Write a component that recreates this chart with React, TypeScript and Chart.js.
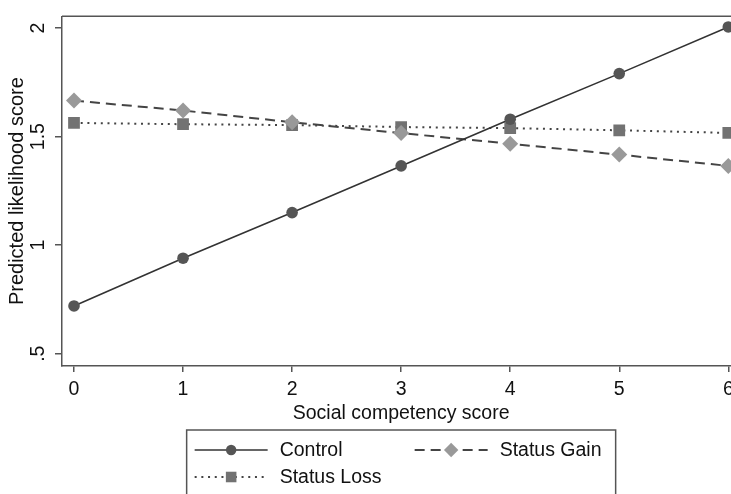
import React, { useEffect, useRef } from 'react';
import { Chart, registerables } from 'chart.js';

Chart.register(...registerables);

// ---- data ----
const xValues = [0, 1, 2, 3, 4, 5, 6];
const xTickLabels = ['0', '1', '2', '3', '4', '5', '6'];
const yTickValues = [0.5, 1, 1.5, 2];
const yTickLabels = ['.5', '1', '1.5', '2'];
const controlValues = [0.72, 0.94, 1.15, 1.365, 1.58, 1.79, 2.005];
const statusGainValues = [1.666, 1.62, 1.566, 1.516, 1.467, 1.417, 1.365];
const statusLossValues = [1.563, 1.557, 1.553, 1.544, 1.539, 1.529, 1.517];
const seriesNames = ['Control', 'Status Gain', 'Status Loss'];
const xTitle = 'Social competency score';
const yTitle = 'Predicted likelihood score';

// ---- style ----
const FONT = '"Liberation Sans", Arial, Helvetica, sans-serif';
const TEXT = '#111111';
const AXIS = '#555555';

const drawMarker = (ctx: CanvasRenderingContext2D, style: string, x: number, y: number, r: number, color: string) => {
  ctx.save();
  ctx.fillStyle = color;
  ctx.beginPath();
  if (style === 'circle') {
    ctx.arc(x, y, r, 0, Math.PI * 2);
  } else if (style === 'rectRot') {
    ctx.moveTo(x, y - r);
    ctx.lineTo(x + r, y);
    ctx.lineTo(x, y + r);
    ctx.lineTo(x - r, y);
    ctx.closePath();
  } else {
    const s = r * Math.SQRT1_2;
    ctx.rect(x - s, y - s, 2 * s, 2 * s);
  }
  ctx.fill();
  ctx.restore();
};

const decorPlugin = {
  id: 'decor',
  afterDraw(chart: any) {
    const { ctx, chartArea, scales } = chart;
    ctx.save();
    // plot region outline (top and right)
    ctx.strokeStyle = AXIS;
    ctx.lineWidth = 1.5;
    ctx.beginPath();
    ctx.moveTo(chartArea.left, chartArea.top);
    ctx.lineTo(chartArea.right, chartArea.top);
    ctx.lineTo(chartArea.right, chartArea.bottom);
    ctx.stroke();

    // rotated y tick labels
    const ys = scales.y;
    ctx.font = `19.5px ${FONT}`;
    ctx.fillStyle = TEXT;
    ctx.textAlign = 'center';
    ctx.textBaseline = 'middle';
    yTickValues.forEach((v, i) => {
      const py = ys.getPixelForValue(v);
      ctx.save();
      ctx.translate(chartArea.left - 23.3, py);
      ctx.rotate(-Math.PI / 2);
      ctx.fillText(yTickLabels[i], 0, 0);
      ctx.restore();
    });

    // legend
    const cx = (chartArea.left + chartArea.right) / 2;
    const boxW = 429;
    const boxL = cx - boxW / 2;
    const boxT = chartArea.bottom + 64;
    ctx.strokeStyle = AXIS;
    ctx.lineWidth = 1.5;
    ctx.strokeRect(boxL, boxT, boxW, 120);

    const items = [
      { ds: 0, dx: 8, row: 0 },
      { ds: 1, dx: 228, row: 0 },
      { ds: 2, dx: 8, row: 1 },
    ];
    items.forEach((it) => {
      const ds = chart.data.datasets[it.ds];
      const ly = boxT + 20 + it.row * 27;
      const x0 = boxL + it.dx;
      ctx.save();
      ctx.strokeStyle = ds.borderColor;
      ctx.lineWidth = ds.borderWidth;
      ctx.setLineDash(ds.borderDash || []);
      ctx.beginPath();
      ctx.moveTo(x0, ly);
      ctx.lineTo(x0 + 73, ly);
      ctx.stroke();
      ctx.restore();
      drawMarker(ctx, ds.pointStyle, x0 + 36.5, ly, ds.pointRadius * 0.9, ds.pointBackgroundColor);
      ctx.font = `19.5px ${FONT}`;
      ctx.fillStyle = TEXT;
      ctx.textAlign = 'left';
      ctx.textBaseline = 'alphabetic';
      ctx.fillText(ds.label, x0 + 85, ly + 5.5);
    });
    ctx.restore();
  },
};

export default function App() {
  const canvasRef = useRef<HTMLCanvasElement | null>(null);

  useEffect(() => {
    if (!canvasRef.current) return;
    const toXY = (vals: number[]) => xValues.map((x, i) => ({ x, y: vals[i] }));
    const chart = new Chart(canvasRef.current, {
      type: 'line',
      data: {
        datasets: [
          {
            label: seriesNames[0],
            data: toXY(controlValues),
            borderColor: '#333333',
            borderWidth: 1.6,
            borderDash: [],
            pointStyle: 'circle',
            pointRadius: 5.8,
            pointBackgroundColor: '#555555',
            pointBorderColor: '#555555',
            pointBorderWidth: 0,
          },
          {
            label: seriesNames[1],
            data: toXY(statusGainValues),
            borderColor: '#444444',
            borderWidth: 2,
            borderDash: [10, 6],
            pointStyle: 'rectRot',
            pointRadius: 8,
            pointBackgroundColor: '#999999',
            pointBorderColor: '#999999',
            pointBorderWidth: 0,
          },
          {
            label: seriesNames[2],
            data: toXY(statusLossValues),
            borderColor: '#444444',
            borderWidth: 2,
            borderDash: [2, 4.7],
            pointStyle: 'rect',
            pointRadius: 8.3,
            pointBackgroundColor: '#727272',
            pointBorderColor: '#727272',
            pointBorderWidth: 0,
          },
        ] as any,
      },
      options: {
        animation: false,
        responsive: false,
        devicePixelRatio: 1,
        layout: { padding: { top: 3, left: 0, right: 11.7, bottom: 71.1 } },
        plugins: {
          legend: { display: false },
          tooltip: { enabled: false },
        },
        elements: { line: { tension: 0 } },
        scales: {
          x: {
            type: 'linear',
            min: -0.11,
            max: 6.11,
            afterBuildTicks: (scale: any) => {
              scale.ticks = xValues.map((v) => ({ value: v }));
            },
            ticks: {
              padding: 6,
              color: TEXT,
              font: { family: FONT, size: 19.5 },
              callback: (v: any) => {
                const i = xValues.indexOf(Number(v));
                return i >= 0 ? xTickLabels[i] : '';
              },
              maxRotation: 0,
              autoSkip: false,
            },
            grid: {
              display: true,
              drawOnChartArea: false,
              drawTicks: true,
              tickLength: 6,
              color: AXIS,
              lineWidth: 1.5,
            },
            border: { display: true, color: AXIS, width: 1.5 },
            title: {
              display: true,
              text: xTitle,
              color: TEXT,
              font: { family: FONT, size: 19.5, lineHeight: 1 },
              padding: { top: -4, bottom: 0 },
            },
          },
          y: {
            type: 'linear',
            min: 0.4435,
            max: 2.054,
            afterBuildTicks: (scale: any) => {
              scale.ticks = yTickValues.map((v) => ({ value: v }));
            },
            afterFit: (scale: any) => {
              scale.width = 54;
            },
            ticks: { display: false },
            grid: {
              display: true,
              drawOnChartArea: false,
              drawTicks: true,
              tickLength: 7,
              color: AXIS,
              lineWidth: 1.5,
            },
            border: { display: true, color: AXIS, width: 1.5 },
            title: {
              display: true,
              text: yTitle,
              color: TEXT,
              font: { family: FONT, size: 20, lineHeight: 0.95 },
              padding: { top: 0, bottom: 0 },
            },
          },
        },
      } as any,
      plugins: [decorPlugin],
    });
    return () => chart.destroy();
  }, []);

  return (
    <div style={{ position: 'fixed', left: 8, top: 8, width: 723, height: 486, overflow: 'hidden' }}>
      <canvas ref={canvasRef} width={744} height={486} style={{ display: 'block' }} />
    </div>
  );
}
